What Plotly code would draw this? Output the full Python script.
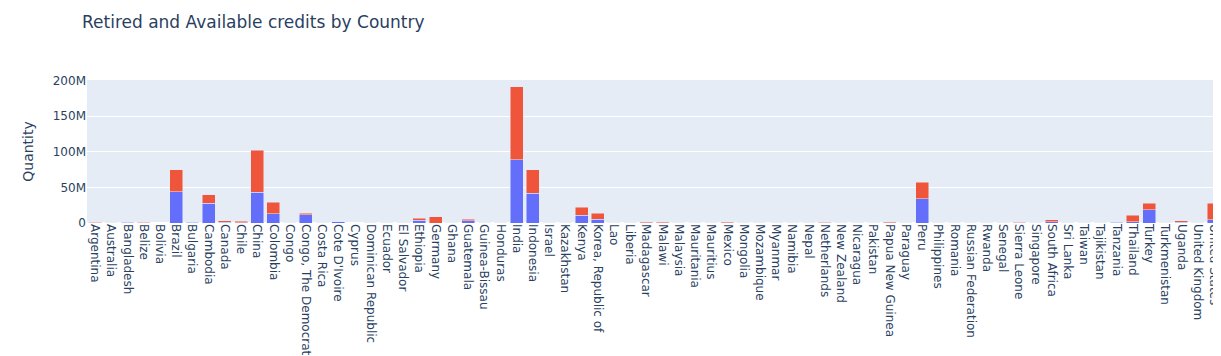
import plotly.graph_objects as go

countries = [
    "Argentina", "Australia", "Bangladesh", "Belize", "Bolivia", "Brazil", "Bulgaria",
    "Cambodia", "Canada", "Chile", "China", "Colombia", "Congo",
    "Congo, The Democratic Republic of the", "Costa Rica", "Cote D'Ivoire", "Cyprus",
    "Dominican Republic", "Ecuador", "El Salvador", "Ethiopia", "Germany", "Ghana",
    "Guatemala", "Guinea-Bissau", "Honduras", "India", "Indonesia", "Israel",
    "Kazakhstan", "Kenya", "Korea, Republic of", "Lao", "Liberia", "Madagascar",
    "Malawi", "Malaysia", "Mauritania", "Mauritius", "Mexico", "Mongolia",
    "Mozambique", "Myanmar", "Namibia", "Nepal", "Netherlands", "New Zealand",
    "Nicaragua", "Pakistan", "Papua New Guinea", "Paraguay", "Peru", "Philippines",
    "Romania", "Russian Federation", "Rwanda", "Senegal", "Sierra Leone", "Singapore",
    "South Africa", "Sri Lanka", "Taiwan", "Tajikistan", "Tanzania", "Thailand",
    "Turkey", "Turkmenistan", "Uganda", "United Kingdom", "United States",
]

# values in millions
retired = [
    0.4, 0.1, 1.2, 0.2, 0.0, 44.0, 1.2,
    28.0, 1.0, 0.3, 43.0, 13.0, 0.05,
    11.5, 0.05, 1.8, 0.0,
    0.05, 0.05, 0.05, 3.7, 0.0, 0.1,
    3.5, 0.1, 0.1, 89.0, 42.0, 0.05,
    0.05, 11.0, 5.0, 0.05, 0.1, 0.3,
    0.3, 0.2, 0.2, 0.05, 0.3, 0.1,
    0.1, 0.05, 0.1, 0.1, 0.2, 0.05,
    0.1, 0.1, 0.4, 0.05, 34.0, 0.1,
    0.05, 0.1, 0.1, 0.1, 0.2, 0.05,
    2.0, 0.05, 0.05, 0.05, 1.4, 1.9,
    18.5, 0.05, 1.0, 0.05, 4.5,
]
available = [
    0.6, 0.4, 0.8, 0.8, 0.0, 31.0, 0.3,
    12.0, 2.0, 2.0, 59.0, 16.5, 0.05,
    2.5, 0.05, 0.2, 0.0,
    0.05, 0.05, 0.05, 3.3, 9.0, 0.2,
    2.0, 0.2, 0.2, 102.5, 33.0, 0.05,
    0.05, 11.0, 9.0, 0.05, 0.2, 1.2,
    1.2, 0.4, 0.4, 0.05, 1.2, 0.3,
    0.3, 0.05, 0.3, 0.3, 0.8, 0.05,
    0.4, 0.3, 1.1, 0.05, 23.0, 0.3,
    0.05, 0.3, 0.3, 0.4, 0.6, 0.05,
    2.3, 0.05, 0.05, 0.05, 0.3, 8.9,
    9.5, 0.05, 2.3, 0.05, 23.5,
]

retired_q = [v * 1e6 for v in retired]
available_q = [v * 1e6 for v in available]

W, H = 1294, 450
fig = go.Figure()
fig.add_trace(go.Bar(x=countries, y=retired_q, name="Retired", marker_color="#636efa"))
fig.add_trace(go.Bar(x=countries, y=available_q, name="Available", marker_color="#EF553B"))

fig.update_layout(
    template="plotly",
    barmode="stack",
    width=W,
    height=H,
    showlegend=False,
    font=dict(family="DejaVu Sans, Verdana, sans-serif"),
    margin=dict(l=79, r=80, t=72, b=235, autoexpand=False),
    title=dict(
        text="Retired and Available credits by Country",
        x=74 / W, xanchor="left", xref="container",
        y=1 - 14 / H, yanchor="middle", yref="container",
        font=dict(size=17),
    ),
    xaxis=dict(tickangle=90, automargin=False, tickfont=dict(size=12)),
    yaxis=dict(title=dict(text="Quantity"), range=[0, 2.01e8], automargin=False,
               tickvals=[0, 5e7, 1e8, 1.5e8, 2e8], ticktext=["0", "50M", "100M", "150M", "200M"]),
)

fig.write_html("out.html")
